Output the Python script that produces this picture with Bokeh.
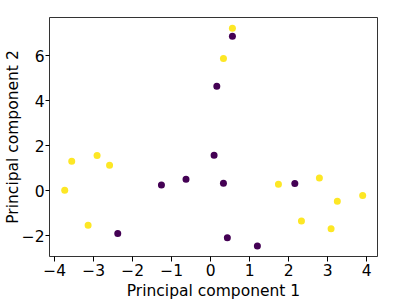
from bokeh.plotting import figure
from bokeh.models import ColumnDataSource, FixedTicker, Range1d
from bokeh.embed import file_html
from bokeh.resources import INLINE

pc1 = [0.56, 0.56, 0.33, 0.16, -3.56, -2.91, -2.59, -3.74, -3.14, -2.38, -1.26, -0.63,
       0.09, 0.33, 1.74, 2.16, 2.79, 3.90, 3.25, 2.33, 3.09, 0.43, 1.20]
pc2 = [7.21, 6.86, 5.87, 4.64, 1.30, 1.56, 1.13, 0.01, -1.54, -1.91, 0.25, 0.50,
       1.57, 0.33, 0.28, 0.31, 0.56, -0.22, -0.47, -1.35, -1.70, -2.10, -2.46]
label = [1, 0, 1, 0, 1, 1, 1, 1, 1, 0, 0, 0,
         0, 0, 1, 0, 1, 1, 1, 1, 1, 0, 0]
palette = ["#440154", "#fde725"]
x_ticks = [-4, -3, -2, -1, 0, 1, 2, 3, 4]
y_ticks = [-2, 0, 2, 4, 6]
x_label = "Principal component 1"
y_label = "Principal component 2"

colors = [palette[c] for c in label]
src = ColumnDataSource(dict(x=pc1, y=pc2, c=colors))

p = figure(frame_width=328, frame_height=239, output_backend="svg", toolbar_location=None,
           x_range=Range1d(-4.13, 4.28), y_range=Range1d(-2.93, 7.69),
           min_border_left=30, min_border_top=17, min_border_right=14, min_border_bottom=35)
p.scatter("x", "y", source=src, size=7, fill_color="c", line_color=None)

p.xgrid.visible = False
p.ygrid.visible = False
p.outline_line_color = "black"
p.outline_line_width = 1
p.outline_line_alpha = 0.8

def fmt(v):
    return ("\u2212" + str(-v)) if v < 0 else str(v)

for ax, ticks, lab in ((p.xaxis, x_ticks, x_label), (p.yaxis, y_ticks, y_label)):
    ax.ticker = FixedTicker(ticks=ticks)
    ax.major_label_overrides = {t: fmt(t) for t in ticks}
    ax.axis_label = lab
    ax.axis_label_text_font = "DejaVu Sans"
    ax.axis_label_text_font_size = "15.5px"
    ax.axis_label_text_font_style = "normal"
    ax.axis_label_text_color = "black"
    ax.major_label_text_font = "DejaVu Sans"
    ax.major_label_text_font_size = "15.5px"
    ax.major_label_text_color = "black"
    ax.axis_line_color = None
    ax.major_tick_in = 0
    ax.major_tick_out = 5
    ax.major_tick_line_color = "black"
    ax.minor_tick_line_color = None
    ax.major_label_standoff = 2
    ax.axis_label_standoff = 3

p.yaxis.major_tick_out = 4
p.yaxis.major_label_standoff = 1
p.yaxis.axis_label_standoff = -3

open("out.html", "w").write(file_html(p, INLINE))
